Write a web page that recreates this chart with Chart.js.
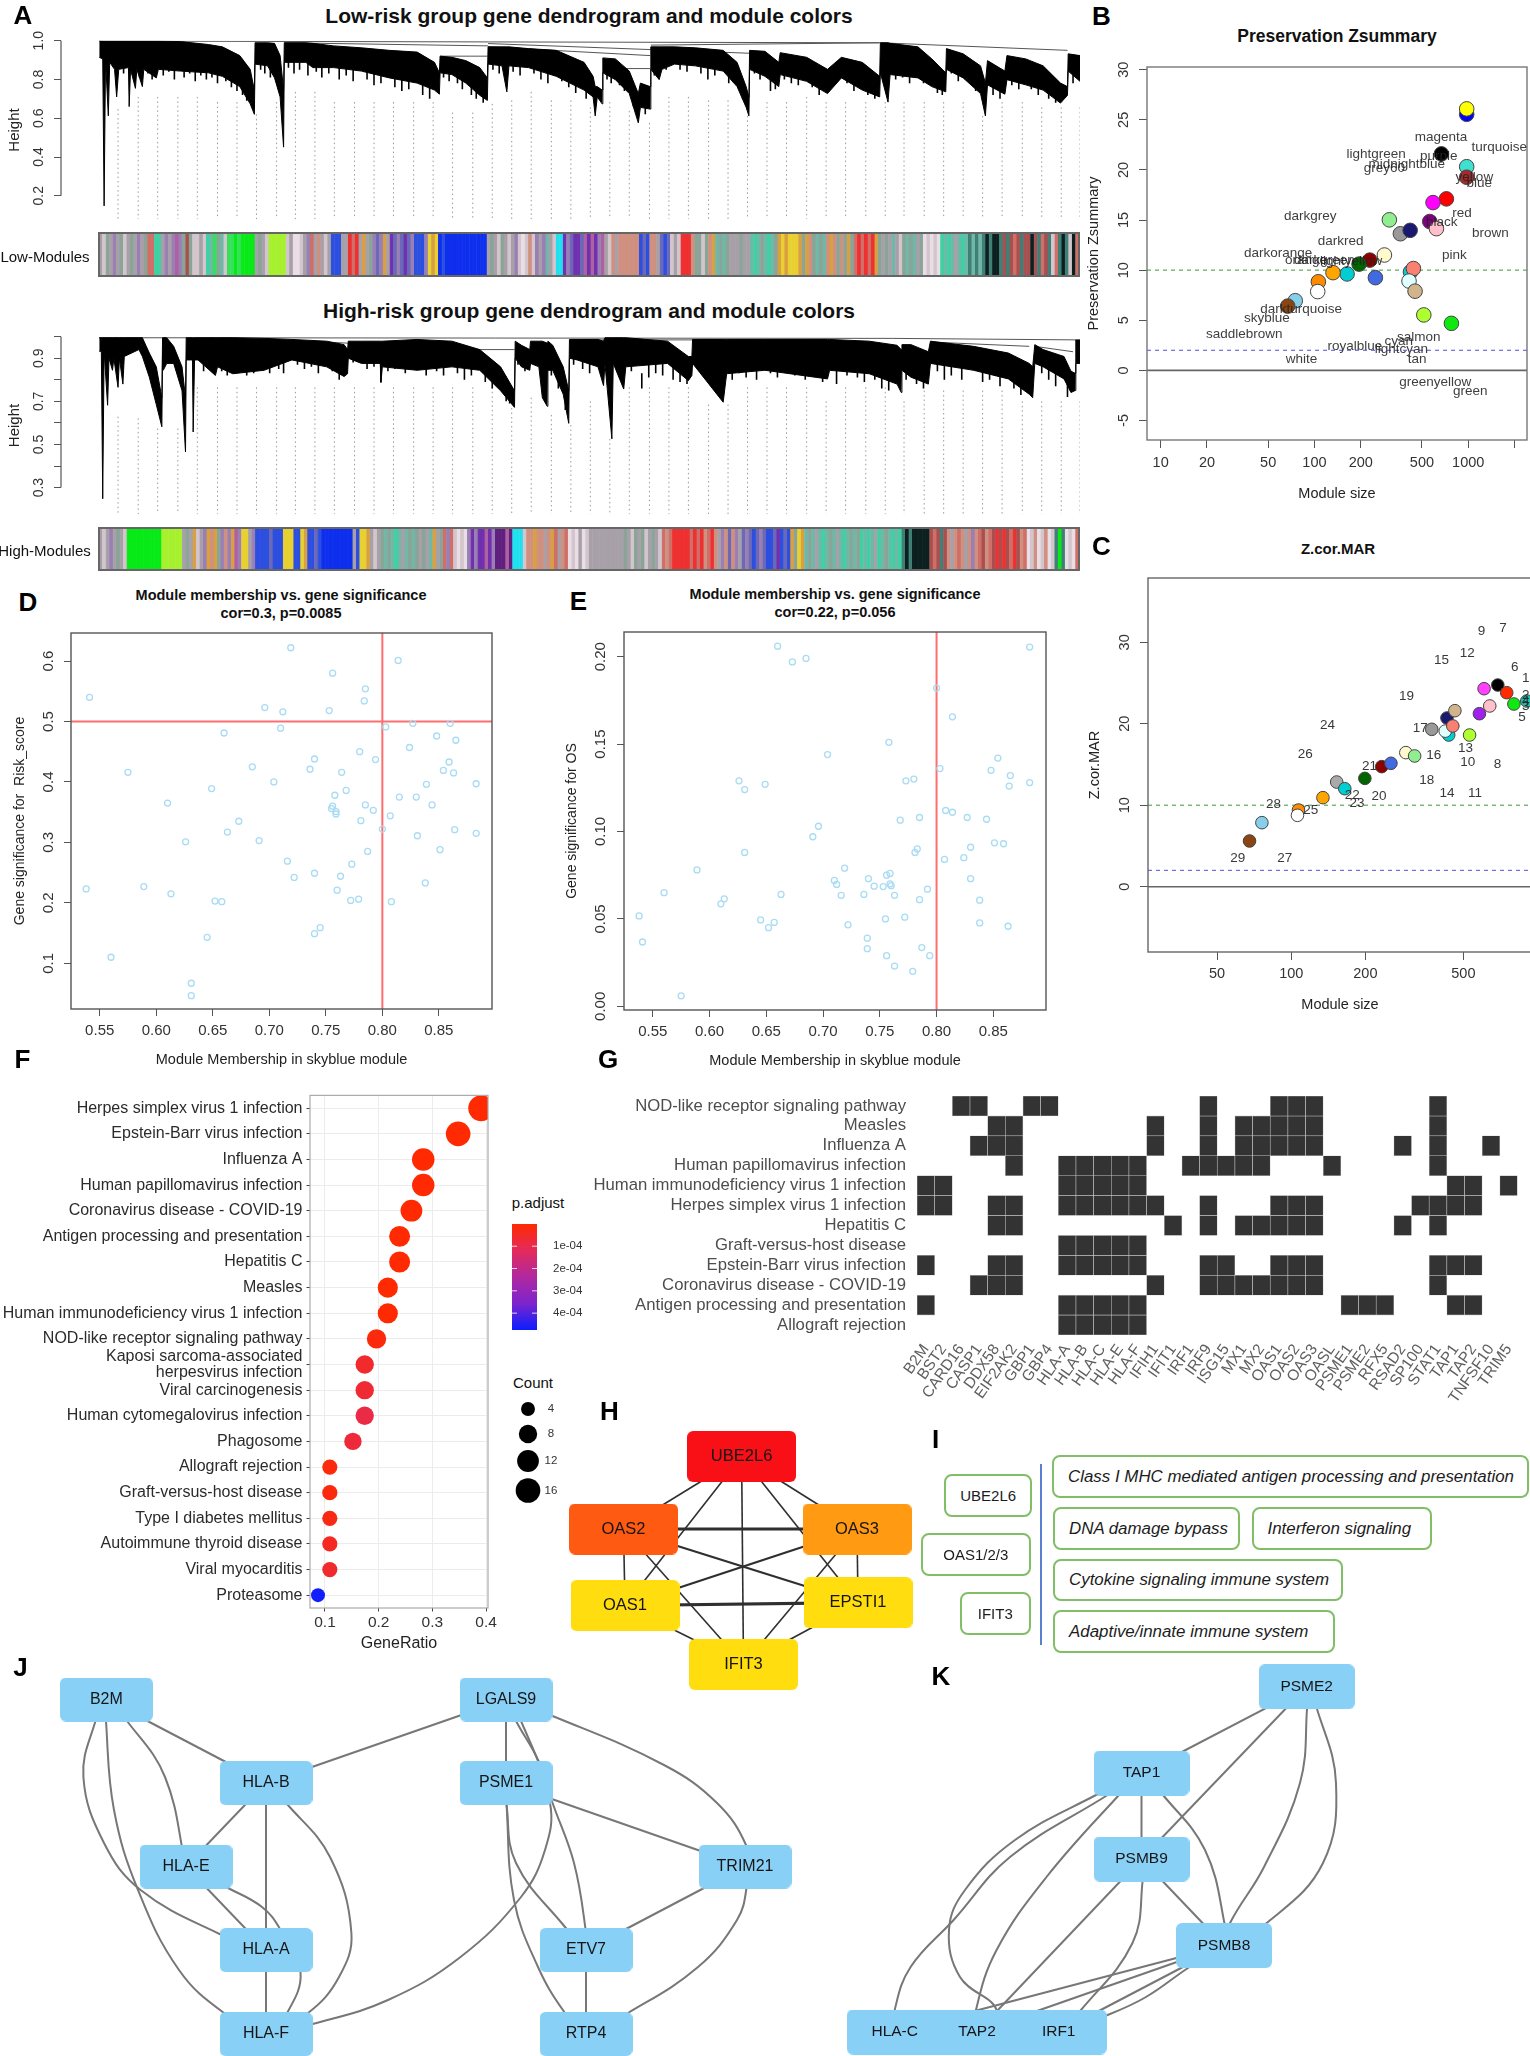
<!DOCTYPE html>
<html>
<head>
<meta charset="utf-8">
<title>Module preservation and enrichment figure</title>
<script src="https://cdn.jsdelivr.net/npm/chart.js@4"></script>
<style>
html, body { margin: 0; padding: 0; background: #fff; }
body { position: relative; width: 1530px; height: 2056px; overflow: hidden; font-family: "Liberation Sans", Arial, sans-serif; }
canvas { position: absolute; }
.note { position: absolute; white-space: nowrap; transform: translate(-50%, -50%); color: #111; }
.pill { position: absolute; box-sizing: border-box; border: 2px solid #82bd68; border-radius: 8px; display: flex; align-items: center; color: #1c1c1c; white-space: nowrap; }
</style>
</head>
<body>
<script>
// ---- panel A, dendrograms (x is gene order, values are tree heights)
var lowX = [0,5,7,9,13,15,22,25,28,42,43,45,52,54,62,64,82,85,117,157,177,202,217,223,224,242,252,260,265,266,297,307,337,377,417,457,482,489,490,507,527,547,558,559,579,586,589,617,657,697,710,713,716,723,724,742,762,775,778,792,793,805,809,827,857,897,917,930,934,935,957,977,979,1017,1047,1067,1097,1122,1123,1134,1137,1177,1197,1217,1218,1242,1267,1274,1277,1302,1305,1332,1357,1382,1392,1393,1410];
var lowTop = [1,.998,.998,.998,.998,.998,.998,.998,.998,.998,.998,.998,.998,.998,.998,.998,.998,.998,.995,.98,.968,.923,.852,.745,.989,.989,.986,.923,.745,.989,.989,.986,.973,.963,.95,.941,.888,.834,.92,.914,.897,.861,.808,.968,.968,.968,.968,.959,.95,.888,.816,.763,.763,.745,.911,.906,.843,.727,.781,.763,.968,.968,.968,.968,.963,.95,.888,.763,.71,.95,.945,.888,.938,.914,.852,.914,.888,.816,.989,.989,.986,.968,.906,.834,.959,.932,.87,.781,.897,.843,.923,.906,.87,.781,.763,.932,.923];
var lowBottom = [.914,.906,.148,.906,.612,.888,.852,.71,.852,.861,.66,.852,.754,.852,.763,.852,.808,.852,.843,.834,.816,.763,.674,.62,.879,.87,.808,.71,.451,.888,.888,.861,.861,.843,.808,.781,.745,.724,.834,.825,.781,.718,.692,.879,.87,.736,.87,.861,.816,.745,.71,.612,.71,.674,.834,.799,.727,.576,.656,.647,.852,.799,.852,.879,.87,.843,.763,.656,.612,.852,.816,.763,.825,.79,.727,.808,.745,.71,.834,.683,.825,.808,.763,.736,.852,.808,.727,.612,.772,.724,.799,.772,.745,.678,.718,.843,.79];
var lowTeethX = [35,48,58,70,76,92,100,108,122,130,138,146,154,162,170,182,190,198,206,212,232,238,246,272,280,288,300,312,320,330,345,355,365,385,395,405,425,435,445,465,475,495,503,515,522,535,542,552,566,575,595,605,625,635,645,665,675,685,700,730,736,748,755,768,785,798,815,835,845,865,875,885,905,925,942,950,965,972,985,995,1005,1025,1035,1055,1075,1085,1105,1115,1145,1155,1165,1185,1205,1212,1225,1235,1250,1260,1285,1295,1312,1322,1340,1350,1365,1375,1385,1400];
var lowTeethY = [.83,.82,.81,.83,.8,.82,.84,.8,.81,.83,.79,.82,.8,.81,.78,.79,.76,.74,.72,.69,.85,.83,.81,.86,.83,.85,.82,.84,.81,.83,.8,.82,.79,.8,.77,.78,.76,.74,.75,.72,.7,.81,.79,.78,.75,.72,.7,.68,.85,.83,.84,.82,.83,.8,.78,.79,.76,.73,.7,.8,.78,.77,.74,.66,.62,.82,.85,.85,.84,.83,.8,.82,.78,.7,.83,.8,.74,.75,.8,.78,.77,.76,.72,.78,.78,.74,.72,.7,.8,.81,.78,.78,.73,.72,.83,.79,.79,.74,.72,.7,.77,.75,.75,.72,.7,.68,.7,.78];
var lowJoinX = [0,1122,null,1123,1392,null,266,559,null,490,558,null,724,792,null,559,792,null,559,935,null,793,1122];
var lowJoinY = [.998,.989,null,.989,.95,null,.989,.973,null,.92,.92,null,.856,.856,null,.968,.923,null,.985,.935,null,.977,.989];
var guideX = [27,56,84,113,141,170,198,226,255,282,310,338,367,395,423,452,480,508,537,565,593,621,650,678,706,734,762,791,819,847,876,904,932,960,988,1017,1045,1073,1102,1130,1157,1186,1214,1242,1270,1298,1327,1355,1383,1410];
var lowGuideTop = [.647,.71,.71,.71,.71,.683,.683,.62,.683,.736,.736,.683,.683,.683,.683,.683,.683,.629,.629,.674,.692,.736,.692,.692,.656,.683,.638,.576,.71,.71,.692,.692,.612,.683,.683,.71,.683,.683,.683,.683,.683,.683,.683,.683,.612,.683,.683,.656,.656,.656];

var highX = [0,3,5,7,12,14,19,21,27,29,34,36,57,62,72,82,90,91,92,97,107,119,124,125,134,135,137,142,167,170,192,237,277,327,352,357,358,377,404,405,407,457,507,547,577,597,598,607,619,620,632,637,644,645,652,667,675,676,687,717,725,727,737,739,754,757,817,847,852,853,897,902,957,1047,1050,1107,1147,1153,1154,1167,1192,1195,1257,1307,1337,1342,1345,1357,1387,1397,1403,1404,1410];
var highTop = [.995,.995,.995,.995,.995,.995,.995,.995,.995,.995,.995,.995,.995,.995,.924,.86,.717,.995,.995,.995,.955,.86,.717,.995,.995,.995,.995,.995,.995,.995,.995,.992,.987,.979,.963,.94,.979,.979,.979,.979,.979,.987,.979,.94,.86,.749,.979,.96,.94,.979,.979,.979,.97,.979,.96,.86,.749,.987,.987,.987,.979,.995,.995,.995,.995,.995,.979,.908,.908,.987,.987,.987,.987,.987,.987,.979,.96,.94,.963,.963,.93,.979,.955,.924,.876,.86,.963,.94,.908,.84,.83,.985,.985];
var highBottom = [.932,.932,.248,.932,.682,.9,.844,.9,.765,.9,.78,.908,.94,.908,.812,.685,.582,.932,.844,.876,.876,.749,.465,.892,.892,.558,.892,.892,.82,.86,.828,.844,.892,.86,.815,.828,.9,.876,.876,.788,.86,.844,.86,.844,.749,.672,.9,.86,.844,.876,.86,.717,.677,.844,.844,.733,.598,.9,.892,.86,.773,.876,.526,.876,.757,.86,.876,.796,.82,.876,.696,.828,.844,.804,.844,.828,.78,.741,.844,.812,.78,.876,.844,.804,.733,.717,.876,.86,.804,.741,.75,.876,.876];
var highTeethX = [150,160,176,184,200,212,222,245,258,265,285,295,305,315,335,345,365,385,395,415,425,440,470,485,495,515,525,535,555,565,585,590,602,612,650,660,670,682,695,705,745,750,765,780,790,800,810,825,835,845,865,875,885,910,920,930,945,965,975,985,1000,1015,1025,1040,1060,1075,1090,1100,1115,1125,1135,1160,1175,1185,1205,1215,1225,1240,1270,1280,1295,1315,1325,1355,1365,1375,1392];
var highTeethY = [.84,.86,.84,.82,.84,.82,.83,.83,.85,.83,.87,.85,.86,.83,.84,.8,.88,.85,.86,.84,.85,.83,.82,.84,.82,.83,.8,.82,.79,.76,.7,.69,.87,.84,.82,.76,.66,.87,.85,.83,.84,.8,.84,.76,.81,.83,.82,.8,.79,.78,.84,.82,.83,.8,.83,.81,.8,.83,.81,.84,.82,.8,.83,.79,.78,.82,.81,.79,.8,.76,.75,.8,.78,.76,.84,.8,.82,.8,.79,.8,.77,.76,.73,.83,.8,.77,.72];
var highJoinX = [0,1140,null,1140,1404,null,235,500,null,500,597,null,1195,1337,null,1345,1400,null,700,900];
var highJoinY = [.995,.992,null,.992,.985,null,.987,.95,null,.94,.94,null,.975,.955,null,.955,.93,null,.985,.985];
var highGuideTop = [.629,.621,.574,.574,.765,.765,.765,.765,.765,.765,.765,.765,.765,.765,.765,.765,.765,.765,.765,.765,.669,.717,.637,.59,.7,.526,.765,.765,.765,.765,.685,.685,.765,.765,.765,.765,.7,.765,.765,.765,.7,.75,.75,.75,.75,.75,.7,.7,.7,.7];
var heightTicksLow = [.2,.4,.6,.8,1];
var heightLabelsHigh = [.3,.4,.5,.6,.7,.8,.9,1];

// ---- panel A, module colour strips, one letter per run of genes
var stripPalette = { g:'#a8a0a8', e:'#8aa598', l:'#d2c6cc', w:'#eadde6', t:'#6fb8a8', a:'#3fd0a4', p:'#9a7fb5', n:'#6a68b8', v:'#7030b0', m:'#b060a0', r:'#cf6f68', R:'#ee3030', s:'#d09080', o:'#d8a040', y:'#e8d030', G:'#08ea18', q:'#35e05a', Y:'#a6f02e', b:'#2c4fe0', B:'#0f2fee', c:'#20e0f0', k:'#0c2020', d:'#3f7f75', h:'#a85050', x:'#602080' };
var lowStrip = 'glegpgelgegpge' + 'rr' + 'aa' + 'gpg' + 'pmp' + 'ehel' + 'lgl' + 'at' + 'qe' + 'tl' + 'qqGq' + 'GGGG' + 'gegl' + 'YYYYY' + 'lg' + 'wwl' + 'gp' + 'rgs' + 'glg' + 'bbb' + 'gg' + 'RrR' + 'goge' + 'pnpog' + 'vnp' + 'nvnp' + 'bbbp' + 'yoy' + 'BbBBBBBBBBBBBB' + 'gegle' + 'glgp' + 'lwlsl' + 'pgp' + 'tgl' + 'cc' + 'vpnv' + 'vnmv' + 'mvpm' + 'glsgs' + 'sssss' + 'bnb' + 'ssg' + 'nbn' + 'lgl' + 'RRR' + 'se' + 'eleso' + 'tete' + 'gggegg' + 'tatetate' + 'oyo' + 'yyy' + 'oeos' + 'etet' + 'sos' + 'eseoe' + 'rRr' + 'RrRo' + 'egegtgl' + 'etetge' + 'wlwlwa' + 'tatgtat' + 'dtdtd' + 'kd' + 'kkd' + 'hdh' + 'rhdh' + 'hkhdrh' + 'dlrdk' + 'dlkr';
var highStrip = 'glgpgegl' + 'GGGGGGGGGG' + 'YYYYYY' + 'gegolgp' + 'osoe' + 'pspomp' + 'yy' + 'gp' + 'bbbbnbbb' + 'yyy' + 'bb' + 'yo' + 'bbnb' + 'BBBBBBBBB' + 'gb' + 'yyog' + 'lge' + 'tetatgtet' + 'egegtoge' + 'rpr' + 'lwlwp' + 'vpvvmvp' + 'xxxmx' + 'cccl' + 'ssossgso' + 'rgsr' + 'wlwgwl' + 'gggggggggg' + 'eglegelgegl' + 'rsrR' + 'RRRRr' + 'RrRsrR' + 'sgpsnspg' + 'npnbnpnb' + 'bnvbnb' + 'oeyo' + 'tetgtatetgtatete' + 'atatgatetata' + 'dkd' + 'kkkkk' + 'hrhdh' + 'sgsrsgsps' + 'rhsrhR' + 'hRhrRhsr' + 'wlswlswl' + 'dGd' + 'wlwr';

// ---- panel B, preservation Zsummary
var bModules = ['blue','yellow','black','turquoise','brown','red','magenta','purple','pink','#999999','midnightblue','lightgreen','lemonchiffon','darkred','darkgreen','royalblue','darkturquoise','orange','darkorange','white','skyblue','saddlebrown','darkturquoise','salmon','lightcyan','tan','greenyellow','#10e810'];
var bSize = [977,977,669,977,977,721,590,562,621,362,419,307,285,229,195,249,163,132,106,105,75,67,421,440,412,451,514,777];
var bZ = [25.55,26.09,21.6,20.32,19.27,17.11,16.74,14.85,14.14,13.63,13.97,15.02,11.51,11,10.6,9.25,9.62,9.75,8.84,7.86,6.95,6.41,9.82,10.16,8.91,7.9,5.53,4.69];
var bLabels = ['magenta','turquoise','lightgreen','purple','midnightblue','grey60','yellow','blue','red','black','darkgrey','brown','darkred','pink','darkorange','orange','darkgreen','lightyellow','darkturquoise','skyblue','saddlebrown','salmon','cyan','royalblue','lightcyan','white','tan','greenyellow','green'];
var bLabelSize = [665,1592,252,643,398,285,1096,1180,912,673,94,1393,148,813,58,88,116,173,82,49,35,477,353,183,368,82.4,465,611,1032];
var bLabelZ = [23.3,22.3,21.6,21.4,20.55,20.15,19.3,18.7,15.66,14.8,15.4,13.7,12.9,11.5,11.7,11,11,10.87,6.07,5.16,3.58,3.34,2.94,2.43,2.06,1.08,1.08,-1.21,-2.09];
var bSizeTicks = [10,20,50,100,200,500,1000,2000];
var bZTicks = [-5,0,5,10,15,20,25,30];

// ---- panel C, Z.cor.MAR
var cModules = ['saddlebrown','skyblue','darkorange','white','orange','#aaaaaa','darkturquoise','darkgreen','darkred','royalblue','lemonchiffon','lightgreen','#999999','midnightblue','darkturquoise','lightcyan','salmon','tan','greenyellow','#a020f0','#ff40ff','pink','black','#ff2a00','#10e810','#20c0b0'];
var cSize = [67.7,76,107,106,134.5,153,165,199,233,254,292,317,372,429,436,422,453,462,530,581,607,640,690,750,802,905];
var cZ = [5.61,7.86,9.41,8.76,10.93,12.85,12.03,13.3,14.74,15.15,16.46,16.05,19.32,20.71,18.62,19.1,19.73,21.61,18.62,21.24,24.31,22.19,24.76,23.82,22.43,22.8];
var cLabels = ['9','7','12','15','6','1','19','2','3','4','5','24','17','26','16','13','10','8','21','18','22','20','14','11','23','28','25','29','27'];
var cLabelSize = [592,725,519,408,809,897,294,897,897,897,866,140.5,334.5,114,379,510,521,688,208,355,177,227,429.5,558,185,84.8,120,60.7,94.2];
var cLabelZ = [31.4,31.7,28.6,27.75,26.9,25.6,23.4,23.5,22.2,22.8,20.75,19.77,19.5,16.3,16.17,17,15.23,15.03,14.82,13.1,11.25,11.15,11.5,11.5,10.19,10.15,9.38,3.44,3.44];
var cSizeTicks = [50,100,200,500];
var cZTicks = [0,10,20,30];

// ---- panel D, membership vs significance for Risk_score
var dMembership = [.541,.719,.814,.756,.785,.784,.696,.712,.753,.71,.66,.803,.827,.86,.848,.865,.824,.78,.794,.74,.685,.736,.575,.764,.859,.854,.863,.883,.839,.704,.649,.758,.768,.61,.756,.755,.759,.759,.785,.792,.807,.815,.83,.844,.673,.663,.781,.8,.864,.883,.626,.691,.831,.787,.851,.716,.773,.722,.74,.763,.838,.538,.589,.613,.76,.652,.658,.772,.779,.808,.745,.74,.645,.56,.631,.631];
var dRisk = [.54,.622,.601,.58,.554,.534,.523,.516,.518,.489,.481,.491,.497,.497,.476,.469,.457,.45,.437,.438,.425,.421,.416,.416,.433,.419,.415,.397,.396,.4,.389,.378,.386,.365,.36,.356,.351,.347,.362,.353,.344,.375,.375,.362,.335,.317,.336,.322,.321,.315,.301,.303,.311,.285,.288,.269,.264,.242,.249,.244,.233,.223,.227,.215,.221,.203,.202,.204,.206,.202,.159,.149,.143,.11,.067,.0465];
var dXTicks = [.55,.6,.65,.7,.75,.8,.85];
var dYTicks = [.1,.2,.3,.4,.5,.6];

// ---- panel E, membership vs significance for OS
var eMembership = [.66,.882,.685,.673,.8,.814,.758,.704,.854,.803,.848,.865,.78,.773,.626,.649,.882,.864,.631,.808,.814,.827,.785,.768,.844,.696,.691,.851,.859,.83,.631,.783,.781,.824,.807,.719,.589,.71,.712,.83,.74,.759,.756,.759,.76,.745,.753,.56,.663,.716,.736,.763,.792,.613,.785,.61,.838,.538,.772,.755,.645,.657,.652,.722,.838,.863,.541,.739,.739,.787,.756,.794,.763,.779,.575];
var eOS = [.206,.2055,.199,.197,.182,.1656,.151,.144,.142,.136,.135,.132,.13,.129,.129,.127,.128,.126,.124,.112,.111,.108,.108,.1065,.107,.103,.097,.0935,.093,.091,.088,.09,.088,.085,.084,.079,.078,.072,.0697,.073,.073,.076,.075,.07,.069,.0687,.0685,.065,.064,.0635,.064,.0635,.067,.0615,.061,.0586,.0607,.0517,.051,.05,.0494,.048,.045,.0466,.0477,.0458,.0368,.039,.033,.0336,.029,.029,.023,.02,.006];
var eYTicks = [0,.05,.1,.15,.2];

// ---- panel F, KEGG dot plot
var fTerms = ['Herpes simplex virus 1 infection','Epstein-Barr virus infection','Influenza A','Human papillomavirus infection','Coronavirus disease - COVID-19','Antigen processing and presentation','Hepatitis C','Measles','Human immunodeficiency virus 1 infection','NOD-like receptor signaling pathway',['Kaposi sarcoma-associated','herpesvirus infection'],'Viral carcinogenesis','Human cytomegalovirus infection','Phagosome','Allograft rejection','Graft-versus-host disease','Type I diabetes mellitus','Autoimmune thyroid disease','Viral myocarditis','Proteasome'];
var fRatio = [.391,.348,.283,.283,.261,.239,.239,.217,.217,.196,.174,.174,.174,.152,.109,.109,.109,.109,.109,.087];
var fCount = [18,16,13,13,12,11,11,10,10,9,8,8,8,7,5,5,5,5,5,4];
var fPadjust = [2e-6,2e-6,2e-6,2e-6,2e-6,2e-6,2e-6,2e-6,2e-6,1.5e-5,6e-5,6.5e-5,9e-5,7.5e-5,1.5e-5,1.5e-5,2.5e-5,4.5e-5,6e-5,4.7e-4];
var fRatioTicks = [.1,.2,.3,.4];
var pTicks = [1e-4,2e-4,3e-4,4e-4];
var pColours = [[255,42,0],[228,42,92],[176,40,159],[125,36,205],[10,30,255]];
var legendCounts = [4,8,12,16];

// ---- panel G, gene / pathway membership
var gPathways = ['NOD-like receptor signaling pathway','Measles','Influenza A','Human papillomavirus infection','Human immunodeficiency virus 1 infection','Herpes simplex virus 1 infection','Hepatitis C','Graft-versus-host disease','Epstein-Barr virus infection','Coronavirus disease - COVID-19','Antigen processing and presentation','Allograft rejection'];
var gGenes = ['B2M','BST2','CARD16','CASP1','DDX58','EIF2AK2','GBP1','GBP4','HLA-A','HLA-B','HLA-C','HLA-E','HLA-F','IFIH1','IFIT1','IRF1','IRF9','ISG15','MX1','MX2','OAS1','OAS2','OAS3','OASL','PSME1','PSME2','RFX5','RSAD2','SP100','STAT1','TAP1','TAP2','TNFSF10','TRIM5'];
var gMembers = [
  ['CARD16','CASP1','GBP1','GBP4','IRF9','OAS1','OAS2','OAS3','STAT1'],
  ['DDX58','EIF2AK2','IFIH1','IRF9','MX1','MX2','OAS1','OAS2','OAS3','STAT1'],
  ['CASP1','DDX58','EIF2AK2','IFIH1','IRF9','MX1','MX2','OAS1','OAS2','OAS3','RSAD2','STAT1','TNFSF10'],
  ['EIF2AK2','HLA-A','HLA-B','HLA-C','HLA-E','HLA-F','IRF1','IRF9','ISG15','MX1','MX2','OASL','STAT1'],
  ['B2M','BST2','HLA-A','HLA-B','HLA-C','HLA-E','HLA-F','TAP1','TAP2','TRIM5'],
  ['B2M','BST2','DDX58','EIF2AK2','HLA-A','HLA-B','HLA-C','HLA-E','HLA-F','IFIH1','IRF9','OAS1','OAS2','OAS3','SP100','STAT1','TAP1','TAP2'],
  ['DDX58','EIF2AK2','IFIT1','IRF9','MX1','MX2','OAS1','OAS2','OAS3','RSAD2','STAT1'],
  ['HLA-A','HLA-B','HLA-C','HLA-E','HLA-F'],
  ['B2M','DDX58','EIF2AK2','HLA-A','HLA-B','HLA-C','HLA-E','HLA-F','IRF9','ISG15','OAS1','OAS2','OAS3','STAT1','TAP1','TAP2'],
  ['CASP1','DDX58','EIF2AK2','IFIH1','IRF9','ISG15','MX1','MX2','OAS1','OAS2','OAS3','STAT1'],
  ['B2M','HLA-A','HLA-B','HLA-C','HLA-E','HLA-F','PSME1','PSME2','RFX5','TAP1','TAP2'],
  ['HLA-A','HLA-B','HLA-C','HLA-E','HLA-F']
];

// ---- networks H, J, K (layout positions in canvas units)
var hNames = ['UBE2L6','OAS2','OAS3','OAS1','EPSTI1','IFIT3'];
var hX = [741.6,623.5,857,625,858,743.5];
var hY = [1456.5,1529,1529,1605.5,1602.7,1664.5];
var hFill = ['#f91016','#ff5a12','#ff9a12','#ffdd0e','#ffdd0e','#ffdd0e'];
var hEdges = [[0,1,1.6],[0,2,1.6],[0,3,1.6],[0,4,1.6],[0,5,1.6],[1,2,3.2],[1,3,1.6],[1,4,2.2],[1,5,1.6],[2,3,2.2],[2,4,1.6],[2,5,1.6],[3,4,3.2],[3,5,1.6],[4,5,1.6]];

var jNames = ['B2M','HLA-B','HLA-E','HLA-A','HLA-F','LGALS9','PSME1','TRIM21','ETV7','RTP4'];
var jX = [106.4,266,186,266,266,506,506,745,586,586];
var jY = [1699.5,1783,1866.5,1950,2034,1699.5,1783,1866.5,1950,2034];
var jEdges = [
  [0,1],
  [0,2,[[127,1721],[165,1777]]],
  [0,3,[[95.5,1721],[83.4,1777],[104,1843],[140.6,1890],[219.6,1934]]],
  [0,4,[[106,1721],[114,1810],[138,1890],[179,1970],[224,2013]]],
  [1,2],[1,3],
  [1,4,[[287,1804],[330,1857],[351.4,1933],[339,1977],[308,2013]]],
  [2,3],
  [2,4,[[228,1888],[262,1907],[280,1929],[300.5,1972],[287,2013]]],
  [3,4],[5,1],[5,6],
  [5,8,[[516,1721],[539,1762],[552.6,1803],[574,1863],[585.5,1929]]],
  [5,4,[[521,1721],[550,1803],[545,1850],[521,1897],[460.5,1957],[388,2000],[312.6,2024]]],
  [5,7,[[552.6,1716],[664,1765],[717,1803],[746,1845]]],
  [6,7],
  [6,8,[[506.5,1804],[516,1863],[565,1927]]],
  [6,9,[[506.5,1804],[514,1900],[538,1967],[565,2013]]],
  [7,8],
  [7,9,[[746.5,1888],[737,1920],[698,1967],[628,2013]]],
  [8,9]
];

var kNames = ['PSME2','TAP1','PSMB9','PSMB8','HLA-C','TAP2','IRF1'];
var kX = [1306.7,1141.5,1141.5,1224,894.7,977,1058.7];
var kY = [1686.8,1773,1859,1945.5,2032,2032,2032];
var kEdges = [
  [0,1],[0,2],
  [0,3,[[1307,1709],[1300,1783],[1264,1867],[1230,1923]]],
  [0,3,[[1317,1709],[1336,1783],[1323,1863],[1268,1922]]],
  [1,2],
  [1,3,[[1163,1795],[1205,1850],[1224.4,1923]]],
  [1,4,[[1107.6,1795],[1010,1857],[953.6,1920],[910.6,1967],[894.7,2010]]],
  [1,5,[[1096,1795],[1015,1840],[965,1890],[949,1930],[960,1977],[996.6,2010]]],
  [1,5,[[1119,1795],[1046.5,1877],[996.6,1950],[976,2010]]],
  [2,5],
  [2,6,[[1142.5,1882],[1132.5,1943],[1081,2010]]],
  [2,3],[3,4],[3,5],[3,6],
  [3,6,[[1188,1968],[1146,1997],[1107.6,2015]]]
];

var FONT = '"Liberation Sans", Arial, sans-serif';

Chart.defaults.font.family = FONT;
Chart.defaults.animation = false;

// draws the frame around the plot area
Chart.register({
  id: 'box',
  afterDatasetsDraw: function (chart, args, opts) {
    if (!opts.color) return;
    var a = chart.chartArea, ctx = chart.ctx;
    ctx.save();
    ctx.strokeStyle = opts.color;
    ctx.lineWidth = opts.width || 1;
    ctx.strokeRect(a.left, a.top, a.right - a.left, a.bottom - a.top);
    ctx.restore();
  }
});

// text placed at data positions
Chart.register({
  id: 'marks',
  afterDatasetsDraw: function (chart, args, opts) {
    if (!opts.texts) return;
    var ctx = chart.ctx, x = chart.scales.x, y = chart.scales.y;
    ctx.save();
    ctx.font = opts.font;
    ctx.fillStyle = opts.color;
    ctx.textAlign = opts.align || 'center';
    ctx.textBaseline = 'middle';
    for (var i = 0; i < opts.texts.length; i++) {
      ctx.fillText(opts.texts[i], x.getPixelForValue(opts.xs[i]), y.getPixelForValue(opts.ys[i]));
    }
    ctx.restore();
  }
});

// R style axis line that stops at the outer ticks
Chart.register({
  id: 'axisLine',
  afterDatasetsDraw: function (chart, args, opts) {
    if (opts.from === undefined) return;
    var ctx = chart.ctx, y = chart.scales.y, left = chart.chartArea.left;
    ctx.save();
    ctx.strokeStyle = '#555';
    ctx.lineWidth = 1.2;
    ctx.beginPath();
    ctx.moveTo(left, y.getPixelForValue(opts.from));
    ctx.lineTo(left, y.getPixelForValue(opts.to));
    ctx.stroke();
    ctx.restore();
  }
});

// short white ticks on the colour bar
Chart.register({
  id: 'barTicks',
  afterDatasetsDraw: function (chart, args, opts) {
    if (!opts.values) return;
    var ctx = chart.ctx, y = chart.scales.y, a = chart.chartArea;
    ctx.save();
    ctx.strokeStyle = 'rgba(255,255,255,.8)';
    opts.values.forEach(function (v) {
      var p = y.getPixelForValue(v);
      ctx.beginPath();
      ctx.moveTo(a.left, p); ctx.lineTo(a.left + 5, p);
      ctx.moveTo(a.right - 5, p); ctx.lineTo(a.right, p);
      ctx.stroke();
    });
    ctx.restore();
  }
});

function note(text, cx, cy, css) {
  var s = document.createElement('span');
  s.className = 'note';
  s.textContent = text;
  s.style.cssText = 'left:' + cx + 'px;top:' + cy + 'px;' + (css || '');
  document.body.appendChild(s);
  return s;
}

function pill(text, l, t, r, b, css) {
  var d = document.createElement('div');
  d.className = 'pill';
  d.textContent = text;
  d.style.cssText = 'left:' + l + 'px;top:' + t + 'px;width:' + (r - l) + 'px;height:' + (b - t) + 'px;' + css;
  document.body.appendChild(d);
}

// box is the plot area in page pixels, m the room around it for the axes
function makeChart(box, m, config, pad) {
  var c = document.createElement('canvas');
  var w = Math.round(box.r - box.l + m.l + m.r), h = Math.round(box.b - box.t + m.t + m.b);
  c.width = w; c.height = h;
  c.style.left = (box.l - m.l) + 'px';
  c.style.top = (box.t - m.t) + 'px';
  c.style.width = w + 'px';
  c.style.height = h + 'px';
  document.body.appendChild(c);
  var o = config.options = config.options || {};
  o.responsive = false;
  o.animation = false;
  o.layout = { autoPadding: false, padding: pad || { left: 0, top: m.t, right: m.r, bottom: 0 } };
  o.plugins = Object.assign({ legend: { display: false }, tooltip: { enabled: false } }, o.plugins);
  return new Chart(c, config);
}

function points(xs, ys) {
  return xs.map(function (x, i) { return { x: x, y: ys[i] }; });
}

function fixedTicks(list) {
  return function (s) { s.ticks = list.map(function (v) { return { value: v }; }); };
}

function xAxis(box, m, a) {
  var size = a.size || 15, tl = a.tickLength === undefined ? 8 : a.tickLength;
  return {
    type: a.type || 'linear', min: a.min, max: a.max,
    afterBuildTicks: fixedTicks(a.ticks),
    afterFit: function (s) { s.height = m.b; },
    border: { display: false },
    grid: { drawOnChartArea: false, tickLength: tl, tickColor: '#555', color: '#555' },
    ticks: { callback: a.format, autoSkip: false, maxRotation: 0, minRotation: 0, font: { size: size }, color: '#333',
      padding: a.tickY - box.b - tl - size * 0.6 },
    title: { display: true, text: a.title, color: '#222', font: { size: a.titleSize || size, lineHeight: 1 },
      padding: { top: 0, bottom: box.b + m.b - a.titleY - (a.titleSize || size) / 2 } }
  };
}

function yAxis(box, m, a) {
  var size = a.size || 15, tl = a.tickLength === undefined ? 8 : a.tickLength;
  return {
    type: 'linear', min: a.min, max: a.max,
    afterBuildTicks: fixedTicks(a.ticks),
    afterFit: function (s) { s.width = m.l; },
    border: { display: false },
    grid: { drawOnChartArea: false, tickLength: tl, tickColor: '#555', color: '#555' },
    ticks: { callback: a.format, autoSkip: false, minRotation: 90, maxRotation: 90, crossAlign: 'center',
      font: { size: size }, color: '#333', padding: box.l - a.tickX - tl - a.labelWidth / 2 },
    title: { display: true, text: a.title, color: '#222', font: { size: a.titleSize || size, lineHeight: 1 },
      padding: { top: a.titleX - (box.l - m.l) - (a.titleSize || size) / 2, bottom: 0 } }
  };
}

function hLine(y, from, to, colour, dash, width) {
  return { type: 'scatter', showLine: true, data: [{ x: from, y: y }, { x: to, y: y }], borderColor: colour, borderDash: dash || [], borderWidth: width || 1.2, pointRadius: 0 };
}

function vLine(x, from, to, colour, width) {
  return { type: 'scatter', showLine: true, data: [{ x: x, y: from }, { x: x, y: to }], borderColor: colour, borderWidth: width || 1.2, pointRadius: 0 };
}

function dendrogram(box, xs, tops, bottoms, teethX, teethY, joinX, joinY, guideTop, yMin, ticks, labels) {
  var m = { l: box.l, t: 12, r: 6, b: 6 };
  var guides = [], teeth = [];
  guideX.forEach(function (x, i) {
    guides.push({ x: x, y: guideTop[i] }, { x: x, y: yMin }, { x: x, y: null });
  });
  // each tooth hangs from inside the black mass
  teethX.forEach(function (x, i) {
    teeth.push({ x: x, y: teethY[i] + .07 }, { x: x, y: teethY[i] }, { x: x, y: null });
  });
  var y = yAxis(box, m, { min: yMin, max: 1, ticks: ticks, tickX: 39, labelWidth: 19.5, size: 14, tickLength: 7, title: 'Height', titleX: 15.3, titleSize: 15,
    format: function (v) { return labels.indexOf(v) < 0 ? '' : v.toFixed(1); } });
  makeChart(box, m, {
    type: 'scatter',
    data: { datasets: [
      { data: points(xs, tops), showLine: true, fill: '+1', backgroundColor: '#000', borderColor: '#000', borderWidth: 1, pointRadius: 0 },
      { data: points(xs, bottoms), showLine: true, borderColor: '#000', borderWidth: 1, pointRadius: 0 },
      { data: teeth, showLine: true, borderColor: '#000', borderWidth: 1.6, pointRadius: 0 },
      { data: points(joinX, joinY), showLine: true, borderColor: '#555', borderWidth: 1, pointRadius: 0 },
      { data: guides, showLine: true, borderColor: '#9a9a9a', borderWidth: 1, borderDash: [1.5, 3], pointRadius: 0 }
    ] },
    options: {
      scales: {
        x: { type: 'linear', min: -55, max: 1410, display: false, afterFit: function (s) { s.height = m.b; } },
        y: y
      },
      plugins: { axisLine: { from: ticks[0], to: ticks[ticks.length - 1] } }
    }
  });
}

function strip(box, cells) {
  var keys = cells.split('');
  var colours = keys.map(function (k) { return stripPalette[k]; });
  makeChart(box, { l: 2, t: 2, r: 2, b: 2 }, {
    type: 'bar',
    data: { labels: keys.map(function (k, i) { return i; }), datasets: [{
      data: keys.map(function () { return 1; }),
      backgroundColor: colours, borderColor: colours, borderWidth: .6,
      barPercentage: 1, categoryPercentage: 1
    }] },
    options: {
      scales: {
        x: { type: 'category', display: false },
        y: { type: 'linear', min: 0, max: 1, display: false }
      },
      plugins: { box: { color: '#666', width: 2 } }
    }
  }, { left: 2, top: 2, right: 2, bottom: 2 });
}

function network(box, names, xs, ys, fills, w, h, edges, edgeColour, edgeWidth, font) {
  var imgs = xs.map(function (x, i) {
    var c = document.createElement('canvas');
    c.width = w; c.height = h;
    var g = c.getContext('2d');
    g.fillStyle = Array.isArray(fills) ? fills[i] : fills;
    g.beginPath();
    g.roundRect(0, 0, w, h, 6);
    g.fill();
    return c;
  });
  var sets = [{
    data: points(xs, ys), pointRadius: 5,
    pointStyle: function (ctx) { return imgs[ctx.dataIndex] || 'circle'; },
    clip: false
  }];
  edges.forEach(function (e) {
    var bends = Array.isArray(e[2]) ? e[2] : [];
    var d = [{ x: xs[e[0]], y: ys[e[0]] }];
    bends.forEach(function (b) { d.push({ x: b[0], y: b[1] }); });
    d.push({ x: xs[e[1]], y: ys[e[1]] });
    sets.push({ data: d, showLine: true, pointRadius: 0, tension: bends.length ? 0.4 : 0,
      borderColor: edgeColour, borderWidth: typeof e[2] === 'number' ? e[2] : edgeWidth });
  });
  makeChart(box, { l: 0, t: 0, r: 0, b: 0 }, {
    type: 'scatter',
    data: { datasets: sets },
    options: {
      scales: {
        x: { type: 'linear', min: box.l, max: box.r, display: false },
        y: { type: 'linear', min: box.t, max: box.b, reverse: true, display: false }
      },
      plugins: { marks: { texts: names, xs: xs, ys: ys, font: font, color: '#151515' } }
    }
  }, { left: 0, top: 0, right: 0, bottom: 0 });
}

function pColour(p) {
  var t = Math.min(p / 4.76e-4, 1) * (pColours.length - 1);
  var i = Math.min(Math.floor(t), pColours.length - 2), f = t - i;
  var c = pColours[i].map(function (v, k) { return Math.round(v + (pColours[i + 1][k] - v) * f); });
  return 'rgb(' + c.join(',') + ')';
}

function countRadius(c) { return 1.6 + 2.68 * Math.sqrt(c); }

function asPlain(v) { return String(v); }

// ---------------- A
note('Low-risk group gene dendrogram and module colors', 589, 15.5, 'font:bold 21px ' + FONT);
note('High-risk group gene dendrogram and module colors', 589, 311, 'font:bold 21px ' + FONT);
dendrogram({ l: 61, t: 39, r: 1080, b: 227 }, lowX, lowTop, lowBottom, lowTeethX, lowTeethY, lowJoinX, lowJoinY, lowGuideTop, 0.0785, heightTicksLow, heightTicksLow);
dendrogram({ l: 61, t: 335.3, r: 1080, b: 522 }, highX, highTop, highBottom, highTeethX, highTeethY, highJoinX, highJoinY, highGuideTop, 0.176, heightLabelsHigh, [.3, .5, .7, .9]);
strip({ l: 99.4, t: 233, r: 1079.6, b: 276 }, lowStrip);
strip({ l: 99.4, t: 528, r: 1079.6, b: 570 }, highStrip);
note('Low-Modules', 45, 255.5, 'font:15px ' + FONT);
note('High-Modules', 44.5, 550, 'font:15px ' + FONT);

// ---------------- B
note('Preservation Zsummary', 1337, 36, 'font:bold 17.5px ' + FONT);
(function () {
  var box = { l: 1147.3, t: 66.6, r: 1527.7, b: 439.5 }, m = { l: 70, t: 20, r: 2, b: 66 };
  makeChart(box, m, {
    type: 'scatter',
    data: { datasets: [
      { data: points(bSize, bZ), backgroundColor: bModules, borderColor: '#444', borderWidth: 1, pointRadius: 7.3 },
      hLine(10, 8.15, 2410, '#5ca85c', [4, 4]),
      hLine(2, 8.15, 2410, '#6a6af0', [4, 4]),
      hLine(0, 8.15, 2410, '#666', [], 1.6)
    ] },
    options: {
      scales: {
        x: xAxis(box, m, { type: 'logarithmic', min: 8.15, max: 2410, ticks: bSizeTicks, tickY: 462.5, title: 'Module size', titleY: 493, size: 14.5,
          format: function (v) { return v === 2000 ? '' : String(v); } }),
        y: yAxis(box, m, { min: -6.95, max: 30.27, ticks: bZTicks, tickX: 1124, labelWidth: 16, title: 'Preservation Zsummary', titleX: 1094, size: 14.5, format: asPlain })
      },
      plugins: {
        box: { color: '#777', width: 1.4 },
        marks: { texts: bLabels, xs: bLabelSize, ys: bLabelZ, font: '13.5px ' + FONT, color: 'rgba(35,35,35,.88)' }
      }
    }
  });
})();

// ---------------- C
note('Z.cor.MAR', 1338, 548.3, 'font:bold 15px ' + FONT);
(function () {
  var box = { l: 1148.3, t: 578.3, r: 1532, b: 952.7 }, m = { l: 70, t: 20, r: 0, b: 66 };
  makeChart(box, m, {
    type: 'scatter',
    data: { datasets: [
      { data: points(cSize, cZ), backgroundColor: cModules, borderColor: '#444', borderWidth: 1, pointRadius: 6.3 },
      hLine(10, 26.2, 950, '#5ca85c', [4, 4]),
      hLine(2, 26.2, 950, '#6a6af0', [4, 4]),
      hLine(0, 26.2, 950, '#666', [], 1.4)
    ] },
    options: {
      scales: {
        x: xAxis(box, m, { type: 'logarithmic', min: 26.2, max: 950, ticks: cSizeTicks, tickY: 975, title: 'Module size', titleY: 1006, size: 14.5, format: asPlain }),
        y: yAxis(box, m, { min: -8.02, max: 37.9, ticks: cZTicks, tickX: 1125, labelWidth: 16, title: 'Z.cor.MAR', titleX: 1095.7, size: 14.5, format: asPlain })
      },
      plugins: {
        box: { color: '#666', width: 1.4 },
        marks: { texts: cLabels, xs: cLabelSize, ys: cLabelZ, font: '13.5px ' + FONT, color: 'rgba(35,35,35,.9)' }
      }
    }
  });
})();

// ---------------- D, E
note('Module membership vs. gene significance', 281, 595, 'font:bold 14.5px ' + FONT);
note('cor=0.3, p=0.0085', 281, 612.7, 'font:bold 14.5px ' + FONT);
(function () {
  var box = { l: 71.3, t: 632.7, r: 491.9, b: 1008.3 }, m = { l: 71, t: 15, r: 8, b: 66 };
  makeChart(box, m, {
    type: 'scatter',
    data: { datasets: [
      { data: points(dMembership, dRisk), backgroundColor: 'rgba(0,0,0,0)', borderColor: '#a9dcf3', borderWidth: 1.3, pointRadius: 3 },
      vLine(.8, .0244, .6464, '#ff6e6e', 2),
      hLine(.5, .5246, .897, '#ff6e6e', [], 2)
    ] },
    options: {
      scales: {
        x: xAxis(box, m, { min: .5246, max: .897, ticks: dXTicks, tickY: 1030, title: 'Module Membership in skyblue module', titleY: 1059, titleSize: 14.5, tickLength: 7, format: function (v) { return v.toFixed(2); } }),
        y: yAxis(box, m, { min: .0244, max: .6464, ticks: dYTicks, tickX: 49, labelWidth: 21, title: 'Gene significance for  Risk_score', titleX: 20, titleSize: 14, tickLength: 7, format: function (v) { return v.toFixed(1); } })
      },
      plugins: { box: { color: '#555', width: 1.4 } }
    }
  });
})();
note('Module membership vs. gene significance', 835, 594, 'font:bold 14.5px ' + FONT);
note('cor=0.22, p=0.056', 835, 612, 'font:bold 14.5px ' + FONT);
(function () {
  var box = { l: 624.3, t: 632.3, r: 1046.6, b: 1010 }, m = { l: 66, t: 15, r: 8, b: 66 };
  makeChart(box, m, {
    type: 'scatter',
    data: { datasets: [
      { data: points(eMembership, eOS), backgroundColor: 'rgba(0,0,0,0)', borderColor: '#a9dcf3', borderWidth: 1.3, pointRadius: 3 },
      vLine(.8, -.0021, .2141, '#ff6e6e', 2)
    ] },
    options: {
      scales: {
        x: xAxis(box, m, { min: .5247, max: .8964, ticks: dXTicks, tickY: 1031.7, title: 'Module Membership in skyblue module', titleY: 1060.7, titleSize: 14.5, tickLength: 7, format: function (v) { return v.toFixed(2); } }),
        y: yAxis(box, m, { min: -.0021, max: .2141, ticks: eYTicks, tickX: 601.7, labelWidth: 29, title: 'Gene significance for OS', titleX: 572, titleSize: 14, tickLength: 7, format: function (v) { return v.toFixed(2); } })
      },
      plugins: { box: { color: '#555', width: 1.4 } }
    }
  });
})();

// ---------------- F
(function () {
  var box = { l: 309.6, t: 1092.5, r: 487.2, b: 1607.3 }, m = { l: 309, t: 10, r: 12, b: 46 };
  var rows = fTerms.map(function (t, i) { return i; });
  makeChart(box, m, {
    type: 'scatter',
    data: { datasets: [{
      data: points(fRatio, rows),
      pointRadius: fCount.map(countRadius),
      backgroundColor: fPadjust.map(pColour),
      borderWidth: 0
    }] },
    options: {
      scales: {
        x: { type: 'linear', min: .0721, max: .4036,
          afterBuildTicks: fixedTicks(fRatioTicks), afterFit: function (s) { s.height = m.b; },
          border: { display: false },
          grid: { color: '#ececec', tickColor: '#444', tickLength: 3.5 },
          ticks: { callback: function (v) { return v.toFixed(1); }, autoSkip: false, maxRotation: 0, font: { size: 15.5 }, color: '#333', padding: 2 },
          title: { display: true, text: 'GeneRatio', font: { size: 16, lineHeight: 1 }, color: '#222', padding: { top: 0, bottom: 2 } } },
        y: { type: 'linear', min: -.5, max: 19.5, reverse: true,
          afterBuildTicks: fixedTicks(rows), afterFit: function (s) { s.width = m.l; },
          border: { display: false },
          grid: { color: '#ececec', tickColor: '#444', tickLength: 3.5 },
          ticks: { callback: function (v) { return fTerms[v]; }, autoSkip: false, font: { size: 16, lineHeight: 1.05 }, color: '#2b2b2b', padding: 4 } }
      },
      plugins: { box: { color: '#aaa', width: 1.2 } }
    }
  });
})();
note('p.adjust', 538, 1202, 'font:15px ' + FONT);
(function () {
  var box = { l: 512, t: 1217, r: 537, b: 1341 }, m = { l: 0, t: 8, r: 50, b: 4 };
  makeChart(box, m, {
    type: 'bar',
    data: { labels: ['p.adjust'], datasets: [{
      data: [[0, 4.76e-4]], barPercentage: 1, categoryPercentage: 1, borderWidth: 0,
      backgroundColor: function (ctx) {
        var a = ctx.chart.chartArea;
        if (!a) return pColour(0);
        var g = ctx.chart.ctx.createLinearGradient(0, a.top, 0, a.bottom);
        pColours.forEach(function (c, i) { g.addColorStop(i / (pColours.length - 1), 'rgb(' + c.join(',') + ')'); });
        return g;
      }
    }] },
    options: {
      scales: {
        x: { type: 'category', display: false },
        y: { type: 'linear', position: 'right', min: 0, max: 4.76e-4, reverse: true,
          afterBuildTicks: fixedTicks(pTicks), afterFit: function (s) { s.width = m.r; },
          border: { display: false }, grid: { display: false },
          ticks: { callback: function (v) { return v.toExponential(0).replace('-', '-0'); }, autoSkip: false, font: { size: 11.5 }, color: '#333', padding: 8 } }
      },
      plugins: { barTicks: { values: pTicks } }
    }
  }, { left: 0, top: m.t, right: 0, bottom: m.b });
})();
note('Count', 533, 1382, 'font:15px ' + FONT);
(function () {
  // key rows of the size legend, spaced by their circle size
  var keyRow = [14, 39, 66, 95.5];
  var box = { l: 512, t: 1395, r: 565, b: 1510 };
  makeChart(box, { l: 0, t: 0, r: 0, b: 0 }, {
    type: 'scatter',
    data: { datasets: [{ data: points([16, 16, 16, 16], keyRow), pointRadius: legendCounts.map(countRadius), backgroundColor: '#000', borderWidth: 0 }] },
    options: {
      scales: {
        x: { type: 'linear', min: 0, max: 53, display: false },
        y: { type: 'linear', min: 0, max: 115, reverse: true, display: false }
      },
      plugins: { marks: { texts: legendCounts.map(String), xs: [39, 39, 39, 39], ys: keyRow, font: '11.5px ' + FONT, color: '#333', align: 'center' } }
    }
  }, { left: 0, top: 0, right: 0, bottom: 0 });
})();

// ---------------- G
(function () {
  var box = { l: 916.7, t: 1086.7, r: 1522.3, b: 1335 }, m = { l: 360, t: 12, r: 7, b: 90 };
  var sets = gMembers.map(function (list, r) {
    return {
      data: gGenes.map(function (g) { return list.indexOf(g) >= 0 ? [r - .5, r + .5] : null; }),
      backgroundColor: '#333', borderColor: '#c4c4c4', borderWidth: .6, borderSkipped: false,
      barPercentage: 1, categoryPercentage: 1, grouped: false
    };
  });
  makeChart(box, m, {
    type: 'bar',
    data: { labels: gGenes, datasets: sets },
    options: {
      scales: {
        x: { type: 'category', afterFit: function (s) { s.height = m.b; },
          border: { display: false }, grid: { display: false, drawTicks: false },
          ticks: { autoSkip: false, minRotation: 55, maxRotation: 55, font: { size: 15.5 }, color: '#5f5f5f', padding: 6 } },
        y: { type: 'linear', min: -.5, max: 11.5, reverse: true,
          afterBuildTicks: fixedTicks(gPathways.map(function (p, i) { return i; })), afterFit: function (s) { s.width = m.l; },
          border: { display: false }, grid: { display: false, drawTicks: false },
          ticks: { callback: function (v) { return gPathways[v]; }, autoSkip: false, font: { size: 16.7 }, color: '#4d4d4d', padding: 11 } }
      }
    }
  });
})();

// ---------------- H, I
network({ l: 560, t: 1420, r: 925, b: 1700 }, hNames, hX, hY, hFill, 109, 51, hEdges, '#2f2f2f', 1.6, '16.5px ' + FONT);
pill('UBE2L6', 944, 1474, 1032.4, 1517, 'justify-content:center;font:15px ' + FONT);
pill('OAS1/2/3', 920.7, 1533, 1031, 1576, 'justify-content:center;font:15px ' + FONT);
pill('IFIT3', 960, 1592, 1030.5, 1635, 'justify-content:center;font:15px ' + FONT);
(function () {
  var d = document.createElement('div');
  d.style.cssText = 'position:absolute;left:1040px;top:1464px;width:2px;height:181px;background:#5b7fd0;';
  document.body.appendChild(d);
})();
pill('Class I MHC mediated antigen processing and presentation', 1052, 1455, 1528.6, 1498, 'padding-left:14px;font:italic 16.9px ' + FONT);
pill('DNA damage bypass', 1053, 1507, 1239.5, 1550, 'padding-left:14px;font:italic 16.9px ' + FONT);
pill('Interferon signaling', 1251.5, 1507, 1432, 1550, 'padding-left:14px;font:italic 16.9px ' + FONT);
pill('Cytokine signaling immune system', 1053, 1559, 1343, 1601, 'padding-left:14px;font:italic 16.9px ' + FONT);
pill('Adaptive/innate immune system', 1053, 1610, 1335.4, 1653, 'padding-left:14px;font:italic 16.9px ' + FONT);

// ---------------- J, K
network({ l: 40, t: 1670, r: 800, b: 2056 }, jNames, jX, jY, '#89d0f7', 93, 44, jEdges, '#777', 2, '16px ' + FONT);
network({ l: 840, t: 1655, r: 1365, b: 2056 }, kNames, kX, kY, '#89d0f7', 96, 45, kEdges, '#777', 2, '15.5px ' + FONT);

// ---------------- panel letters
var LETTERS = 'font:bold 26px ' + FONT + ';color:#000';
note('A', 23, 14.5, LETTERS);
note('B', 1101.5, 16, LETTERS);
note('C', 1101.5, 546, LETTERS);
note('D', 28, 602, LETTERS);
note('E', 578.5, 601, LETTERS);
note('F', 22.5, 1059, LETTERS);
note('G', 608, 1059, LETTERS);
note('H', 609.5, 1411, LETTERS);
note('I', 935.5, 1439, LETTERS);
note('J', 20.5, 1667, LETTERS);
note('K', 941, 1675.5, LETTERS);
</script>
</body>
</html>
